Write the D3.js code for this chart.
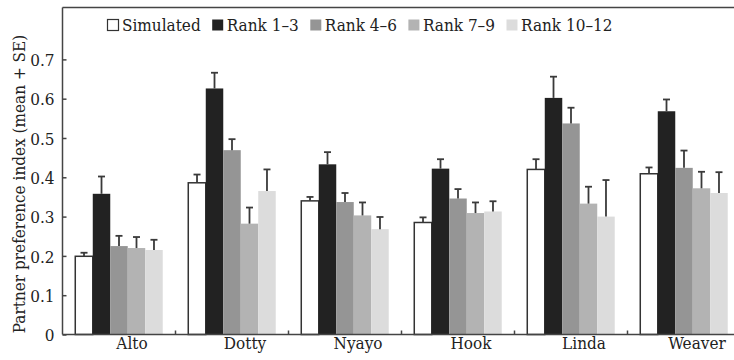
<!DOCTYPE html>
<html>
<head>
<meta charset="utf-8">
<script src="https://cdn.jsdelivr.net/npm/d3@7"></script>
<style>
  html, body { margin: 0; padding: 0; background: #fff; }
  svg { display: block; }
  text { font-family: "DejaVu Serif Condensed", "DejaVu Serif", serif; font-stretch: condensed; fill: #222; }
</style>
</head>
<body>
<svg id="chart" width="734" height="360"></svg>
<script>
// Individuals and partner-rank groups
const categories = ["Alto", "Dotty", "Nyayo", "Hook", "Linda", "Weaver"];
const seriesNames = ["Simulated", "Rank 1–3", "Rank 4–6", "Rank 7–9", "Rank 10–12"];

// Mean partner preference index per group
const simulated  = [0.199, 0.386, 0.340, 0.285, 0.420, 0.409];
const rank1to3   = [0.358, 0.626, 0.433, 0.422, 0.602, 0.568];
const rank4to6   = [0.225, 0.469, 0.337, 0.346, 0.537, 0.424];
const rank7to9   = [0.220, 0.282, 0.303, 0.309, 0.333, 0.372];
const rank10to12 = [0.215, 0.365, 0.268, 0.313, 0.300, 0.360];

// Standard errors
const simulatedSE  = [0.009, 0.021, 0.010, 0.013, 0.026, 0.016];
const rank1to3SE   = [0.044, 0.040, 0.031, 0.024, 0.054, 0.030];
const rank4to6SE   = [0.026, 0.028, 0.023, 0.024, 0.040, 0.044];
const rank7to9SE   = [0.028, 0.041, 0.033, 0.027, 0.043, 0.042];
const rank10to12SE = [0.026, 0.055, 0.031, 0.026, 0.093, 0.053];

const yTicks = [0, 0.1, 0.2, 0.3, 0.4, 0.5, 0.6, 0.7];
const yTickLabels = ["0", "0.1", "0.2", "0.3", "0.4", "0.5", "0.6", "0.7"];

const means = [simulated, rank1to3, rank4to6, rank7to9, rank10to12];
const ses = [simulatedSE, rank1to3SE, rank4to6SE, rank7to9SE, rank10to12SE];
const fills = ["#ffffff", "#222222", "#959595", "#b3b3b3", "#dcdcdc"];

const rows = [];
categories.forEach((c, i) => {
  seriesNames.forEach((s, j) => {
    rows.push({ cat: c, series: s, mean: means[j][i], se: ses[j][i], fill: fills[j] });
  });
});

const svg = d3.select("#chart");
const plotLeft = 62.5, plotRight = 740.5, plotTop = 7.5, plotBottom = 334.5;
const fontSize = "17px";

const x0 = d3.scaleBand().domain(categories).range([plotLeft, plotRight]).padding(0);
const x1 = d3.scaleBand().domain(seriesNames).range([0, x0.bandwidth()])
  .paddingInner(0).paddingOuter(0.73);
const y = d3.scaleLinear().domain([0, 0.832]).range([plotBottom, plotTop]);

const axisColor = "#444";

// Bars
const g = svg.append("g");
g.selectAll("rect.bar").data(rows).join("rect")
  .attr("class", "bar")
  .attr("x", d => x0(d.cat) + x1(d.series))
  .attr("y", d => y(d.mean))
  .attr("width", x1.bandwidth())
  .attr("height", d => y(0) - y(d.mean))
  .attr("fill", d => d.fill)
  .attr("stroke", d => d.series === "Simulated" ? "#333" : "none")
  .attr("stroke-width", 1.5);

// Error bars (mean + SE)
const eb = g.selectAll("g.err").data(rows).join("g").attr("class", "err")
  .attr("stroke", "#3a3a3a").attr("stroke-width", 1.8);
eb.append("line")
  .attr("x1", d => x0(d.cat) + x1(d.series) + x1.bandwidth() / 2)
  .attr("x2", d => x0(d.cat) + x1(d.series) + x1.bandwidth() / 2)
  .attr("y1", d => y(d.mean))
  .attr("y2", d => y(d.mean + d.se));
eb.append("line")
  .attr("x1", d => x0(d.cat) + x1(d.series) + x1.bandwidth() / 2 - 3.5)
  .attr("x2", d => x0(d.cat) + x1(d.series) + x1.bandwidth() / 2 + 3.5)
  .attr("y1", d => y(d.mean + d.se))
  .attr("y2", d => y(d.mean + d.se));

// Frame: top line
svg.append("line")
  .attr("x1", plotLeft).attr("x2", 734).attr("y1", plotTop).attr("y2", plotTop)
  .attr("stroke", axisColor).attr("stroke-width", 1.5);

// Y axis with inward ticks
const yAxis = d3.axisLeft(y).tickValues(yTicks)
  .tickFormat((d, i) => yTickLabels[i]).tickSizeInner(-4).tickSizeOuter(0).tickPadding(8);
const yg = svg.append("g").attr("transform", `translate(${plotLeft},0)`).call(yAxis);
yg.attr("font-family", null).attr("font-size", null);
yg.select(".domain").attr("stroke", axisColor).attr("stroke-width", 1.5)
  .attr("d", `M0,${plotTop}V${plotBottom}`);
yg.selectAll(".tick line").attr("stroke", axisColor).attr("stroke-width", 1.5);
yg.selectAll(".tick text")
  .style("font-size", fontSize).attr("fill", "#222").attr("dy", "0.36em");

// X axis: baseline, separators between groups, labels
svg.append("line")
  .attr("x1", plotLeft).attr("x2", 734).attr("y1", plotBottom).attr("y2", plotBottom)
  .attr("stroke", axisColor).attr("stroke-width", 1.5);
svg.append("g").selectAll("line").data(categories.slice(1)).join("line")
  .attr("x1", d => x0(d)).attr("x2", d => x0(d))
  .attr("y1", plotBottom).attr("y2", plotBottom - 4)
  .attr("stroke", axisColor).attr("stroke-width", 1.5);
svg.append("g").selectAll("text").data(categories).join("text")
  .attr("x", d => x0(d) + x0.bandwidth() / 2 + 13)
  .attr("y", 349)
  .attr("text-anchor", "middle")
  .style("font-size", fontSize)
  .text(d => d);

// Y axis title
svg.append("text")
  .attr("transform", "translate(25,184) rotate(-90)")
  .attr("text-anchor", "middle")
  .style("font-size", fontSize)
  .text("Partner preference index (mean + SE)");

// Legend
const lg = svg.append("g");
let lx = 107;
seriesNames.forEach((s, j) => {
  lg.append("rect")
    .attr("x", lx + 0.5).attr("y", 19.5).attr("width", 11).attr("height", 11)
    .attr("fill", fills[j])
    .attr("stroke", j === 0 ? "#333" : "none").attr("stroke-width", 1.2);
  const t = lg.append("text")
    .attr("x", lx + 15).attr("y", 31)
    .style("font-size", fontSize)
    .text(s);
  lx += 15 + t.node().getComputedTextLength() + 11;
});
</script>
</body>
</html>
